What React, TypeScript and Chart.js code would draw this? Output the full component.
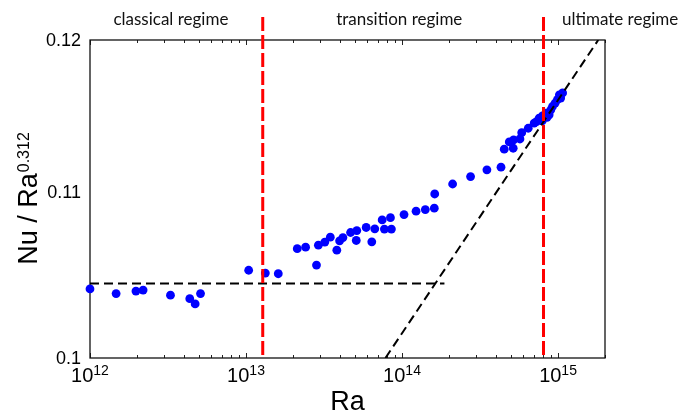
import React, { useEffect, useRef } from 'react';
import { Chart, registerables } from 'chart.js';

Chart.register(...registerables);

const raValues = [
  1e12, 1.47e12, 1.97e12, 2.19e12, 3.28e12, 4.36e12, 4.72e12, 5.11e12,
  1.04e13, 1.33e13, 1.61e13, 2.13e13, 2.41e13, 2.83e13, 2.91e13, 3.2e13,
  3.47e13, 3.82e13, 3.98e13, 4.18e13, 4.68e13, 5.13e13, 5.09e13, 5.89e13,
  6.4e13, 6.69e13, 7.46e13, 8.43e13, 7.71e13, 8.55e13, 1.03e14, 1.23e14,
  1.41e14, 1.61e14, 1.62e14, 2.11e14, 2.75e14, 3.5e14, 4.31e14, 4.52e14,
  5.16e14, 4.87e14, 5.19e14, 5.7e14, 5.85e14, 6.44e14, 7.03e14, 7.28e14,
  7.57e14, 7.95e14, 8.36e14, 8.77e14, 8.99e14, 9.21e14, 9.58e14, 9.91e14,
  1.02e15, 1.07e15, 1.04e15, 7.91e14, 8.5e14,
];
const nuValues = [
  0.10404, 0.10376, 0.10391, 0.10397, 0.10367, 0.10346, 0.10315, 0.10376,
  0.10516, 0.10499, 0.10495, 0.10647, 0.10656, 0.10547, 0.10668, 0.10687,
  0.10717, 0.10638, 0.10695, 0.10715, 0.10746, 0.10758, 0.10697, 0.10777,
  0.10689, 0.10769, 0.10824, 0.10838, 0.10767, 0.10767, 0.10857, 0.10878,
  0.10888, 0.10897, 0.10986, 0.11049, 0.11096, 0.11139, 0.11156, 0.11272,
  0.11278, 0.11319, 0.11332, 0.11338, 0.11379, 0.11408, 0.11441, 0.11452,
  0.11474, 0.11489, 0.11507, 0.11496, 0.11529, 0.11551, 0.11574, 0.11596,
  0.11629, 0.11641, 0.11607, 0.11456, 0.1148,
];

const plateauRa = [1e12, 1.87e14];
const plateauNu = [0.10437, 0.10437];
const ultimateRa = [7.83e13, 1.81e15];
const ultimateNu = [0.1, 0.12];

const regimeBoundaries = [1.28e13, 8.07e14];
const regimeLabels = ['classical regime', 'transition regime', 'ultimate regime'];
const regimeLabelRa = [3.3e12, 9.6e13, 2.5e15];

const xMin = 1e12;
const xMax = 2e15;
const yMin = 0.1;
const yMax = 0.12;
const xTickExponents = [12, 13, 14, 15];
const yTickValues = [0.1, 0.11, 0.12];
const yTickLabels = ['0.1', '0.11', '0.12'];

const xTitle = 'Ra';
const yTitleMain = 'Nu / Ra';
const yTitleSup = '0.312';

const SANS = '"Liberation Sans", Arial, sans-serif';

const toPoints = (xs: number[], ys: number[]) => xs.map((x, i) => ({ x, y: ys[i] }));

const decorPlugin = {
  id: 'decor',
  beforeDatasetsDraw(chart: any) {
    const { ctx, chartArea: a, scales } = chart;
    const xs = scales.x;
    ctx.save();
    ctx.strokeStyle = '#222';
    ctx.lineWidth = 1;
    for (const e of xTickExponents) {
      for (let m = 1; m <= 9; m++) {
        const v = m * Math.pow(10, e);
        if (v < xMin || v > xMax) continue;
        const px = Math.round(xs.getPixelForValue(v)) + 0.5;
        const len = m === 1 ? 5 : 3;
        ctx.beginPath();
        ctx.moveTo(px, a.bottom);
        ctx.lineTo(px, a.bottom - len);
        ctx.moveTo(px, a.top);
        ctx.lineTo(px, a.top + len);
        ctx.stroke();
      }
    }
    ctx.lineWidth = 1.3;
    ctx.strokeStyle = '#111';
    ctx.strokeRect(a.left, a.top, a.right - a.left, a.bottom - a.top);
    ctx.restore();
  },
  afterDraw(chart: any) {
    const { ctx, chartArea: a, scales } = chart;
    const xs = scales.x;
    const ys = scales.y;
    ctx.save();
    ctx.fillStyle = '#000';

    for (const e of xTickExponents) {
      const px = xs.getPixelForValue(Math.pow(10, e));
      ctx.font = `20px ${SANS}`;
      const w1 = ctx.measureText('10').width;
      ctx.font = `14px ${SANS}`;
      const w2 = ctx.measureText(String(e)).width;
      const start = px - (w1 + w2) / 2;
      ctx.textAlign = 'left';
      ctx.textBaseline = 'alphabetic';
      ctx.font = `20px ${SANS}`;
      ctx.fillText('10', start, a.bottom + 24);
      ctx.font = `14px ${SANS}`;
      ctx.fillText(String(e), start + w1, a.bottom + 17);
    }

    ctx.font = `18px ${SANS}`;
    ctx.textAlign = 'right';
    ctx.textBaseline = 'middle';
    yTickValues.forEach((v, i) => {
      ctx.fillText(yTickLabels[i], a.left - 9, ys.getPixelForValue(v) + 1);
    });

    ctx.font = `27px ${SANS}`;
    ctx.textAlign = 'center';
    ctx.textBaseline = 'alphabetic';
    ctx.fillText(xTitle, (a.left + a.right) / 2, a.bottom + 52);

    ctx.save();
    ctx.translate(37, (a.top + a.bottom) / 2);
    ctx.rotate(-Math.PI / 2);
    ctx.font = `27px ${SANS}`;
    const m1 = ctx.measureText(yTitleMain).width;
    ctx.font = `16px ${SANS}`;
    const m2 = ctx.measureText(yTitleSup).width;
    const s = -(m1 + m2) / 2;
    ctx.textAlign = 'left';
    ctx.font = `27px ${SANS}`;
    ctx.fillText(yTitleMain, s, 0);
    ctx.font = `16px ${SANS}`;
    ctx.fillText(yTitleSup, s + m1 + 1, -8);
    ctx.restore();

    ctx.strokeStyle = '#ff0000';
    ctx.lineWidth = 3;
    ctx.setLineDash([14, 4]);
    for (const b of regimeBoundaries) {
      const px = xs.getPixelForValue(b);
      ctx.beginPath();
      ctx.moveTo(px, a.top - 23);
      ctx.lineTo(px, a.bottom);
      ctx.stroke();
    }
    ctx.setLineDash([]);

    ctx.font = '17px Lato, "Open Sans", sans-serif';
    ctx.fillStyle = '#111';
    ctx.textAlign = 'center';
    ctx.textBaseline = 'alphabetic';
    regimeLabels.forEach((t, i) => {
      ctx.fillText(t, xs.getPixelForValue(regimeLabelRa[i]), a.top - 15);
    });
    ctx.restore();
  },
};

export default function App() {
  const ref = useRef<HTMLCanvasElement | null>(null);
  useEffect(() => {
    if (!ref.current) return;
    const chart = new Chart(ref.current, {
      type: 'scatter',
      data: {
        datasets: [
          {
            data: toPoints(ultimateRa, ultimateNu),
            showLine: true,
            borderColor: '#000',
            borderWidth: 2,
            borderDash: [9, 5],
            pointRadius: 0,
            fill: false,
          },
          {
            data: toPoints(plateauRa, plateauNu),
            showLine: true,
            borderColor: '#000',
            borderWidth: 2,
            borderDash: [9, 5],
            pointRadius: 0,
            fill: false,
          },
          {
            data: toPoints(raValues, nuValues),
            backgroundColor: '#0000ff',
            borderColor: '#0000ff',
            borderWidth: 0,
            pointRadius: 4.4,
            clip: false,
          } as any,
        ],
      },
      options: {
        animation: false,
        responsive: false,
        devicePixelRatio: 1,
        layout: { padding: { left: 90, top: 40, right: 76, bottom: 57 } },
        plugins: { legend: { display: false }, tooltip: { enabled: false } },
        events: [],
        scales: {
          x: { type: 'logarithmic', min: xMin, max: xMax, display: false },
          y: { type: 'logarithmic', min: yMin, max: yMax, display: false },
        },
      },
      plugins: [decorPlugin],
    });
    return () => chart.destroy();
  }, []);
  return (
    <div style={{ position: 'absolute', left: 0, top: 0, width: 681, height: 415, background: '#fff' }}>
      <canvas ref={ref} width={681} height={415} style={{ width: 681, height: 415 }} />
    </div>
  );
}
